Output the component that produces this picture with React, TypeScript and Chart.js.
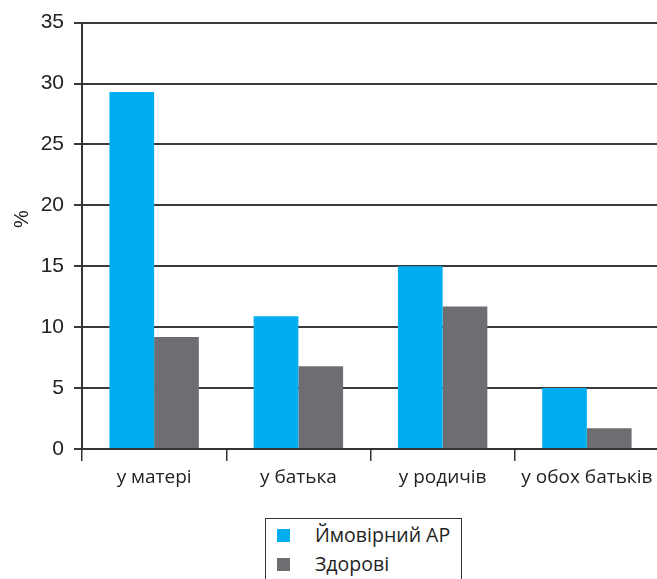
import React, { useEffect, useRef } from "react";
import { Chart, registerables } from "chart.js";

Chart.register(...registerables);

const categories = ["у матері", "у батька", "у родичів", "у обох батьків"];
const seriesNames = ["Ймовірний АР", "Здорові"];
const seriesColors = ["#00AEEF", "#6D6E71"];
const probableAR = [29.3, 10.9, 15.0, 5.0];
const healthy = [9.2, 6.8, 11.7, 1.7];
const yMin = 0;
const yMax = 35;
const yStep = 5;
const yTitle = "%";

export default function App() {
  const ref = useRef<HTMLCanvasElement | null>(null);

  useEffect(() => {
    if (!ref.current) return;
    const chart = new Chart(ref.current, {
      type: "bar",
      data: {
        labels: categories,
        datasets: [
          { label: seriesNames[0], data: probableAR, backgroundColor: seriesColors[0], borderWidth: 0 },
          { label: seriesNames[1], data: healthy, backgroundColor: seriesColors[1], borderWidth: 0 },
        ],
      },
      options: {
        responsive: false,
        animation: false,
        devicePixelRatio: 1,
        layout: { padding: { top: 20, left: 0, right: 0, bottom: 0 } },
        datasets: { bar: { categoryPercentage: 0.62, barPercentage: 1.0 } },
        plugins: {
          legend: { display: false },
          tooltip: { enabled: false },
        },
        scales: {
          x: {
            offset: true,
            grid: {
              display: true,
              offset: true,
              drawOnChartArea: false,
              drawTicks: true,
              tickLength: 12,
              color: "#333",
              lineWidth: 1.5,
            },
            border: { display: true, color: "#333", width: 2 },
            ticks: {
              color: "#222",
              padding: 5,
              font: { family: "'Open Sans', sans-serif", size: 19 },
              maxRotation: 0,
              autoSkip: false,
            },
            afterFit: (s: any) => {
              s.height = 51;
            },
          },
          y: {
            min: yMin,
            max: yMax,
            ticks: {
              stepSize: yStep,
              color: "#222",
              padding: 10,
              font: { family: "'Liberation Sans Narrow', 'Liberation Sans', sans-serif", size: 21 },
            },
            grid: {
              color: "#3a3a3a",
              lineWidth: 2,
              drawTicks: true,
              tickLength: 8,
            },
            border: { display: true, color: "#333", width: 2 },
            title: {
              display: true,
              text: "\u00A0\u00A0\u00A0\u00A0\u00A0\u00A0" + yTitle,
              color: "#222",
              font: { family: "'Liberation Sans', sans-serif", size: 20 },
              padding: { top: 10, bottom: 0 },
            },
            afterFit: (s: any) => {
              s.width = 82;
            },
          },
        },
      },
    });
    return () => chart.destroy();
  }, []);

  return (
    <div style={{ position: "absolute", left: 0, top: 0, width: 657, height: 579, overflow: "hidden", background: "#fff" }}>
      <canvas ref={ref} width={659} height={500} style={{ position: "absolute", left: 0, top: 0, width: 659, height: 500 }} />
      <div
        style={{
          position: "absolute",
          left: 265,
          top: 518,
          width: 197,
          height: 80,
          border: "1.5px solid #333",
          boxSizing: "border-box",
          fontFamily: "'Open Sans', sans-serif",
          fontSize: 19.5,
          color: "#222",
        }}
      >
        {seriesNames.map((name, i) => (
          <div key={name} style={{ position: "absolute", left: 11, top: 5 + i * 29, height: 22, display: "flex", alignItems: "center" }}>
            <span style={{ display: "inline-block", width: 13, height: 13, background: seriesColors[i] }} />
            <span style={{ marginLeft: 25, lineHeight: "22px", whiteSpace: "nowrap" }}>{name}</span>
          </div>
        ))}
      </div>
    </div>
  );
}
